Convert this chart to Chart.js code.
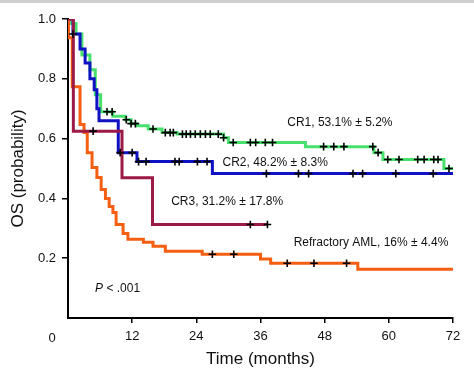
<!DOCTYPE html>
<html>
<head>
<meta charset="utf-8">
<script src="https://cdn.jsdelivr.net/npm/chart.js@4/dist/chart.umd.min.js"></script>
<style>
  html, body { margin: 0; padding: 0; background: #fff; }
  #wrap { width: 474px; height: 380px; }
</style>
</head>
<body>
<div id="wrap"><canvas id="c" width="474" height="380"></canvas></div>
<script>
// ---- Data ----
const xTicks = [0, 12, 24, 36, 48, 60, 72];
const yTicks = [0.2, 0.4, 0.6, 0.8, 1.0];

const cr1Time = [0, 0.4, 1.5, 2.6, 4.1, 5.1, 6.1, 8.4, 10.7, 11.8, 12.8, 15.0, 17.6, 20.4, 29.1, 30.0, 44.4, 57.2, 58.9, 70.3, 72];
const cr1Surv = [1.0, 0.985, 0.95, 0.88, 0.83, 0.747, 0.69, 0.675, 0.663, 0.65, 0.643, 0.632, 0.62, 0.615, 0.603, 0.587, 0.573, 0.553, 0.53, 0.50, 0.50];
const cr1Censor = [7.3, 8.25, 10.9, 11.8, 12.6, 15.9, 18.2, 19.1, 19.7, 21.4, 22.1, 22.9, 23.8, 24.75, 25.7, 26.6, 28.1, 29.1, 30.9, 34.1, 35.1, 36.9, 38.25, 47.8, 49.7, 51.6, 57.0, 58.0, 59.8, 61.9, 65.4, 66.6, 68.4, 69.2, 71.25];

const cr2Time = [0, 0.94, 2.25, 3.2, 4.1, 4.9, 5.4, 5.8, 9.4, 12.9, 27.0, 72];
const cr2Surv = [1.0, 0.95, 0.90, 0.853, 0.80, 0.763, 0.70, 0.66, 0.553, 0.523, 0.483, 0.483];
const cr2Censor = [0.94, 9.75, 12.0, 13.2, 14.6, 20.0, 20.8, 24.2, 26.0, 37.1, 43.1, 45.0, 53.3, 55.1, 61.3, 68.3];

const cr3Time = [0, 1.0, 10.1, 15.8, 37.3];
const cr3Surv = [1.0, 0.625, 0.469, 0.3125, 0.3125];
const cr3Censor = [4.7, 34.1, 37.3];

const refTime = [0, 0.1, 0.8, 2.25, 3.0, 3.6, 4.5, 5.4, 6.2, 7.0, 7.7, 8.4, 9.0, 10.3, 11.2, 14.1, 15.9, 18.2, 25.1, 36.0, 37.9, 54.2, 72];
const refSurv = [1.0, 0.937, 0.773, 0.647, 0.62, 0.553, 0.503, 0.47, 0.43, 0.40, 0.373, 0.353, 0.313, 0.283, 0.263, 0.253, 0.24, 0.223, 0.213, 0.197, 0.183, 0.163, 0.163];
const refCensor = [27.0, 31.0, 41.0, 46.0, 52.1];

const seriesNames = ['CR1', 'CR2', 'CR3', 'Refractory AML'];
const seriesLabels = ['CR1, 53.1% \u00b1 5.2%', 'CR2, 48.2% \u00b1 8.3%', 'CR3, 31.2% \u00b1 17.8%', 'Refractory AML, 16% \u00b1 4.4%'];
const labelAnchors = [[41.0, 0.653], [28.9, 0.52], [19.3, 0.39], [42.2, 0.253]];
const pText = ['P', ' < .001'];
const pAnchor = [5.06, 0.097];

const colors = ['#48e06c', '#1111c4', '#9c1a48', '#f55f12'];

// ---- Helpers ----
function pts(t, s) { return t.map((v, i) => ({ x: v, y: s[i] })); }
function stepAt(t, s, x) {
  let v = s[0];
  for (let i = 0; i < t.length; i++) { if (t[i] <= x + 1e-9) v = s[i]; }
  return v;
}
function censorPts(ct, t, s) { return ct.map(x => ({ x: x, y: stepAt(t, s, x) })); }

const FONT = "'Liberation Sans', Arial, Helvetica, sans-serif";

const curves = [
  [cr1Time, cr1Surv, cr1Censor],
  [cr2Time, cr2Surv, cr2Censor],
  [cr3Time, cr3Surv, cr3Censor],
  [refTime, refSurv, refCensor]
];
const drawOrder = [4, 3, 1, 2]; // lower = on top

const datasets = [];
curves.forEach((c, i) => {
  datasets.push({
    label: seriesNames[i],
    data: pts(c[0], c[1]),
    stepped: 'before',
    borderColor: colors[i],
    borderWidth: 3,
    pointRadius: 0,
    fill: false,
    order: drawOrder[i] + 1
  });
});
curves.forEach((c, i) => {
  datasets.push({
    label: seriesNames[i] + ' censored',
    data: censorPts(c[2], c[0], c[1]),
    showLine: false,
    pointStyle: 'cross',
    pointRadius: 3.8,
    pointBorderWidth: 1.6,
    pointBorderColor: '#000',
    pointBackgroundColor: '#000',
    order: 0
  });
});

const annot = {
  id: 'annot',
  beforeDraw(chart) {
    const ctx = chart.ctx;
    ctx.save();
    ctx.fillStyle = '#fff';
    ctx.fillRect(0, 0, chart.width, chart.height);
    ctx.fillStyle = '#cfcfcf';
    ctx.fillRect(0, 0, chart.width, 3);
    ctx.restore();
  },
  afterDraw(chart) {
    const ctx = chart.ctx;
    const xs = chart.scales.x, ys = chart.scales.y;
    ctx.save();
    ctx.fillStyle = '#111';
    ctx.textBaseline = 'middle';
    ctx.textAlign = 'left';
    ctx.font = '12px ' + FONT;
    seriesLabels.forEach((txt, i) => {
      ctx.fillText(txt, xs.getPixelForValue(labelAnchors[i][0]), ys.getPixelForValue(labelAnchors[i][1]));
    });
    // P value
    let px = xs.getPixelForValue(pAnchor[0]);
    const py = ys.getPixelForValue(pAnchor[1]);
    ctx.font = 'italic 12px ' + FONT;
    ctx.fillText(pText[0], px, py);
    px += ctx.measureText(pText[0]).width;
    ctx.font = '12px ' + FONT;
    ctx.fillText(pText[1], px, py);
    // origin label "0"
    ctx.font = '13px ' + FONT;
    ctx.textAlign = 'center';
    ctx.fillText('0', xs.left - 16, xs.bottom - 42);
    ctx.restore();
  }
};

new Chart(document.getElementById('c'), {
  type: 'line',
  data: { datasets: datasets },
  plugins: [annot],
  options: {
    responsive: false,
    animation: false,
    layout: { padding: { top: 19, right: 21, left: 0, bottom: 0 } },
    plugins: { legend: { display: false }, tooltip: { enabled: false } },
    scales: {
      x: {
        type: 'linear',
        min: 0, max: 72,
        afterFit(s) { s.height = 62; },
        afterBuildTicks(s) { s.ticks = xTicks.map(v => ({ value: v })); },
        ticks: {
          color: '#111',
          font: { family: FONT, size: 13 },
          padding: 6,
          maxRotation: 0,
          callback: v => (v === 0 ? '' : String(v))
        },
        grid: {
          drawOnChartArea: false,
          drawTicks: true,
          tickLength: 5,
          lineWidth: 1.5,
          color: c => (c.tick && c.tick.value === 0 ? 'rgba(0,0,0,0)' : '#000')
        },
        border: { display: true, color: '#000', width: 2 },
        title: {
          display: true,
          text: 'Time (months)',
          color: '#111',
          font: { family: FONT, size: 17, lineHeight: 1.2 },
          padding: { top: 0, bottom: 10 }
        }
      },
      y: {
        type: 'linear',
        min: 0, max: 1.0,
        afterFit(s) { s.width = 68; },
        afterBuildTicks(s) { s.ticks = yTicks.map(v => ({ value: v })); },
        ticks: {
          color: '#111',
          font: { family: FONT, size: 13 },
          padding: 6,
          callback: v => v.toFixed(1)
        },
        grid: {
          drawOnChartArea: false,
          drawTicks: true,
          tickLength: 6,
          lineWidth: 1.5,
          color: '#000'
        },
        border: { display: true, color: '#000', width: 2 },
        title: {
          display: true,
          text: 'OS (probability)',
          color: '#111',
          font: { family: FONT, size: 17, lineHeight: 1.2 },
          padding: { top: 8, bottom: 0 }
        }
      }
    }
  }
});
</script>
</body>
</html>
